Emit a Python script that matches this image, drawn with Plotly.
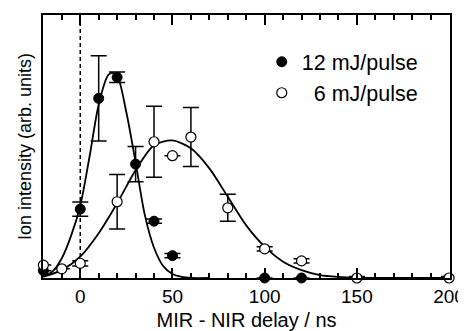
import plotly.graph_objects as go

# Measured data (normalized arbitrary units)
delay_12 = [-20, 0, 10, 20, 30, 40, 50, 100, 120]
ion_12 = [0.028, 0.262, 0.683, 0.763, 0.433, 0.216, 0.085, 0.0, 0.0]
err_12 = [0.0, 0.027, 0.162, 0.020, 0.067, 0.008, 0.008, 0.0, 0.0]

delay_6 = [-20, -10, 0, 20, 40, 50, 60, 80, 100, 120, 150, 200]
ion_6 = [0.049, 0.035, 0.056, 0.290, 0.518, 0.465, 0.536, 0.267, 0.111, 0.065, 0.0, 0.0]
err_6 = [0.0, 0.0, 0.010, 0.104, 0.135, 0.0, 0.112, 0.051, 0.008, 0.008, 0.006, 0.006]

# Fit curves
fit12_x = [-20, -15, -10, -5, 0, 5, 10, 15, 17, 20, 25, 30, 35, 40, 45, 50, 55, 60, 70]
fit12_y = [0.005, 0.025, 0.075, 0.16, 0.275, 0.46, 0.66, 0.77, 0.78, 0.77, 0.63, 0.44, 0.24,
           0.115, 0.045, 0.015, 0.004, 0.0, 0.0]

fit6_x = [-20, -10, 0, 10, 20, 30, 40, 50, 60, 70, 80, 90, 100, 110, 120, 130, 140, 150, 170, 200]
fit6_y = [0.005, 0.03, 0.081, 0.17, 0.284, 0.41, 0.505, 0.523, 0.493, 0.417, 0.309, 0.2,
          0.119, 0.062, 0.03, 0.011, 0.004, 0.001, 0.0, 0.0]

x_tick_step = 50
x_minor_step = 10
x_title = "MIR - NIR delay / ns"
y_title = "Ion intensity (arb. units)"
names = ["12 mJ/pulse", "\u00a0\u00a06 mJ/pulse"]

FONT = "Liberation Sans, Arial, Helvetica, sans-serif"

fig = go.Figure()

fig.add_trace(go.Scatter(x=fit12_x, y=fit12_y, mode="lines", line=dict(color="black", width=1.8, shape="spline", smoothing=0.8),
                         showlegend=False, hoverinfo="skip"))
fig.add_trace(go.Scatter(x=fit6_x, y=fit6_y, mode="lines", line=dict(color="black", width=1.8, shape="spline", smoothing=0.8),
                         showlegend=False, hoverinfo="skip"))

fig.add_trace(go.Scatter(x=delay_12, y=ion_12, mode="markers", name=names[0],
                         marker=dict(symbol="circle", size=10, color="black", line=dict(color="black", width=1)),
                         error_y=dict(type="data", array=err_12, color="black", thickness=1.5, width=8),
                         cliponaxis=False))
fig.add_trace(go.Scatter(x=delay_6, y=ion_6, mode="markers", name=names[1],
                         marker=dict(symbol="circle", size=10, color="white", line=dict(color="black", width=1.2)),
                         error_y=dict(type="data", array=err_6, color="black", thickness=1.5, width=8),
                         cliponaxis=False))

fig.add_vline(x=0, line=dict(color="black", width=1.5, dash="4px,3px"), layer="below")

# The page body adds an 8 px margin, so the figure is sized for the remaining space
fig.update_layout(
    template="none",
    autosize=False,
    width=458, height=323,
    margin=dict(l=35, r=16, t=7, b=53, pad=0, autoexpand=False),
    paper_bgcolor="white", plot_bgcolor="white",
    font=dict(family=FONT, color="black", size=19),
    legend=dict(x=0.5375, y=0.90, xanchor="left", yanchor="top", bgcolor="rgba(0,0,0,0)",
                borderwidth=0,
                font=dict(size=21.5, family=FONT, color="black"), itemwidth=30, tracegroupgap=0),
    xaxis=dict(range=[-20.2, 200.5], tickmode="linear", tick0=0, dtick=x_tick_step,
               ticks="inside", ticklen=10, tickwidth=1.5, tickcolor="black",
               minor=dict(ticks="inside", ticklen=5, tickwidth=1.5, dtick=x_minor_step, tick0=0,
                          tickcolor="black", showgrid=False),
               showline=True, linewidth=2, linecolor="black", mirror="ticks",
               showgrid=False, zeroline=False, automargin=False,
               tickfont=dict(size=19, family=FONT, color="black"),
               title=dict(text=x_title, font=dict(size=20, family=FONT, color="black"), standoff=8)),
    yaxis=dict(range=[0, 1], showticklabels=False, ticks="",
               showline=True, linewidth=2, linecolor="black", mirror=True,
               showgrid=False, zeroline=False, automargin=False,
               title=dict(text=y_title, font=dict(size=18, family=FONT, color="black"), standoff=5)),
)

fig.write_html("out.html")
